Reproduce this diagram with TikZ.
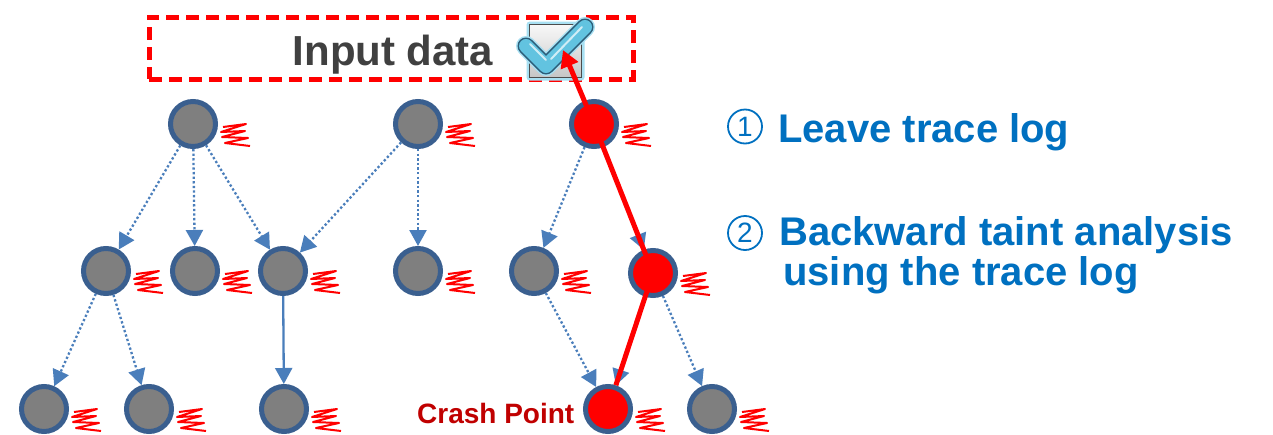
\documentclass[tikz,border=0pt]{standalone}
\usepackage{fontspec}
\setmainfont{Liberation Sans}
\usetikzlibrary{arrows.meta}
\definecolor{nodeborder}{HTML}{3A5F8F}
\definecolor{nodegray}{HTML}{7F7F7F}
\definecolor{arrowblue}{HTML}{4A7EBB}
\definecolor{txtblue}{HTML}{0070C0}
\definecolor{crashred}{HTML}{C00000}
\definecolor{txtgray}{HTML}{404040}
\definecolor{checkblue}{HTML}{62C3E0}
\definecolor{checkdark}{HTML}{2C5D78}
\definecolor{checklight}{HTML}{A8E0F2}
\begin{document}
\begin{tikzpicture}[x=1pt,y=-1pt,
  gnode/.style={circle, draw=nodeborder, line width=5pt, fill=nodegray, minimum size=45pt, inner sep=0pt},
  rnode/.style={gnode, fill=red},
  darrow/.style={arrowblue, line width=2.3pt, dash pattern=on 2.3pt off 2.3pt, -{Triangle[length=16pt,width=17pt]}},
  sarrow/.style={arrowblue, line width=2.3pt, -{Triangle[length=16pt,width=17pt]}},
  redpath/.style={red, line width=5pt},
  scribble/.style={red, line width=2pt, line join=round},
  squig/.pic={\draw[scribble] (30,3) -- (53,0) -- (28,8) -- (52,7) -- (29,13) -- (55,14) -- (32,19) -- (57,22);},
  bigtxt/.style={inner sep=0pt, font=\bfseries\fontsize{40}{48}\selectfont},
  numc/.style={circle, draw=txtblue, line width=1.8pt, minimum size=34pt, inner sep=0pt, text=txtblue, font=\fontsize{28}{32}\selectfont}
]
\useasboundingbox (0,0) rectangle (1273,434);

% input data frame
\node[draw=red, line width=5pt, dash pattern=on 13pt off 7pt, minimum width=484pt, minimum height=62pt, inner sep=0pt] (frame) at (391,48) {};
\node[anchor=base, inner sep=0pt, text=txtgray, font=\bfseries\fontsize{42}{50}\selectfont] (inp) at (393,65) {Input data};

% checkbox icon
\node[draw=checklight, line width=3pt, rounded corners=2pt, minimum width=55pt, minimum height=56pt, inner sep=0pt] (boxo) at (555.5,51) {};
\node[draw=gray!60!black, line width=1pt, top color=white!95!gray, bottom color=gray!45, minimum width=52pt, minimum height=53pt, inner sep=0pt] (box) at (555.5,51) {};
\draw[checklight, line width=20pt, line cap=round, line join=round] (526,46) -- (546,66) -- (585,27);
\draw[checkdark, line width=17pt, line cap=round, line join=round] (526,46) -- (546,66) -- (585,27);
\draw[checkblue, line width=14pt, line cap=round, line join=round] (526,46) -- (546,66) -- (585,27);
\draw[white!70!checkblue, line width=2pt, line cap=round] (530,44) -- (546,60);
\draw[white!70!checkblue, line width=2pt, line cap=round] (551,59) -- (582,27);
\coordinate (chk) at (563,50);

% nodes
\node[gnode] (a1) at (193,124) {};
\node[gnode] (a2) at (418,124) {};
\node[rnode] (a3) at (594,124) {};
\node[gnode] (b1) at (106,271) {};
\node[gnode] (b2) at (195,271) {};
\node[gnode] (b3) at (283,271) {};
\node[gnode] (b4) at (418,271) {};
\node[gnode] (b5) at (534,271) {};
\node[rnode] (b6) at (653,273) {};
\node[gnode] (c1) at (44,409) {};
\node[gnode] (c2) at (149,409) {};
\node[gnode] (c3) at (284,409) {};
\node[rnode] (c4) at (608,409) {};
\node[gnode] (c5) at (712,409) {};

% scribbles
\foreach \n in {a1,a2,a3,b1,b2,b3,b4,b5,b6,c1,c2,c3,c4,c5} \pic at (\n) {squig};

% blue arrows
\draw[darrow] (a1) -- (b1);
\draw[darrow] (a1) -- (b2);
\draw[darrow] (a1) -- (b3);
\draw[darrow] (a2) -- (b3);
\draw[darrow] (a2) -- (b4);
\draw[darrow] (a3) -- (b5);
\draw[darrow] (a3) -- (b6);
\draw[darrow] (b1) -- (c1);
\draw[darrow] (b1) -- (c2);
\draw[sarrow] (b3) -- (c3);
\draw[darrow] (b5) -- (c4);
\draw[darrow] (b6) -- (c4);
\draw[darrow] (b6) -- (c5);

% red backward path
\draw[redpath, line join=round, -{Triangle[length=17pt,width=18pt]}] (c4) -- (b6.center) -- (a3.center) -- (chk);

% crash label
\node[anchor=base west, inner sep=0pt, text=crashred, font=\bfseries\fontsize{28}{32}\selectfont] (cp) at (417,423) {Crash Point};

% right text
\node[numc] (n1) at (745,126.5) {1};
\node[bigtxt, anchor=base west, text=txtblue] (t1) at (778,142) {Leave trace log};
\node[numc] (n2) at (745,233) {2};
\node[bigtxt, anchor=base west, text=txtblue] (t2) at (779,245) {Backward taint analysis};
\node[bigtxt, anchor=base west, text=txtblue] (t3) at (783,285) {using the trace log};
\end{tikzpicture}
\end{document}
